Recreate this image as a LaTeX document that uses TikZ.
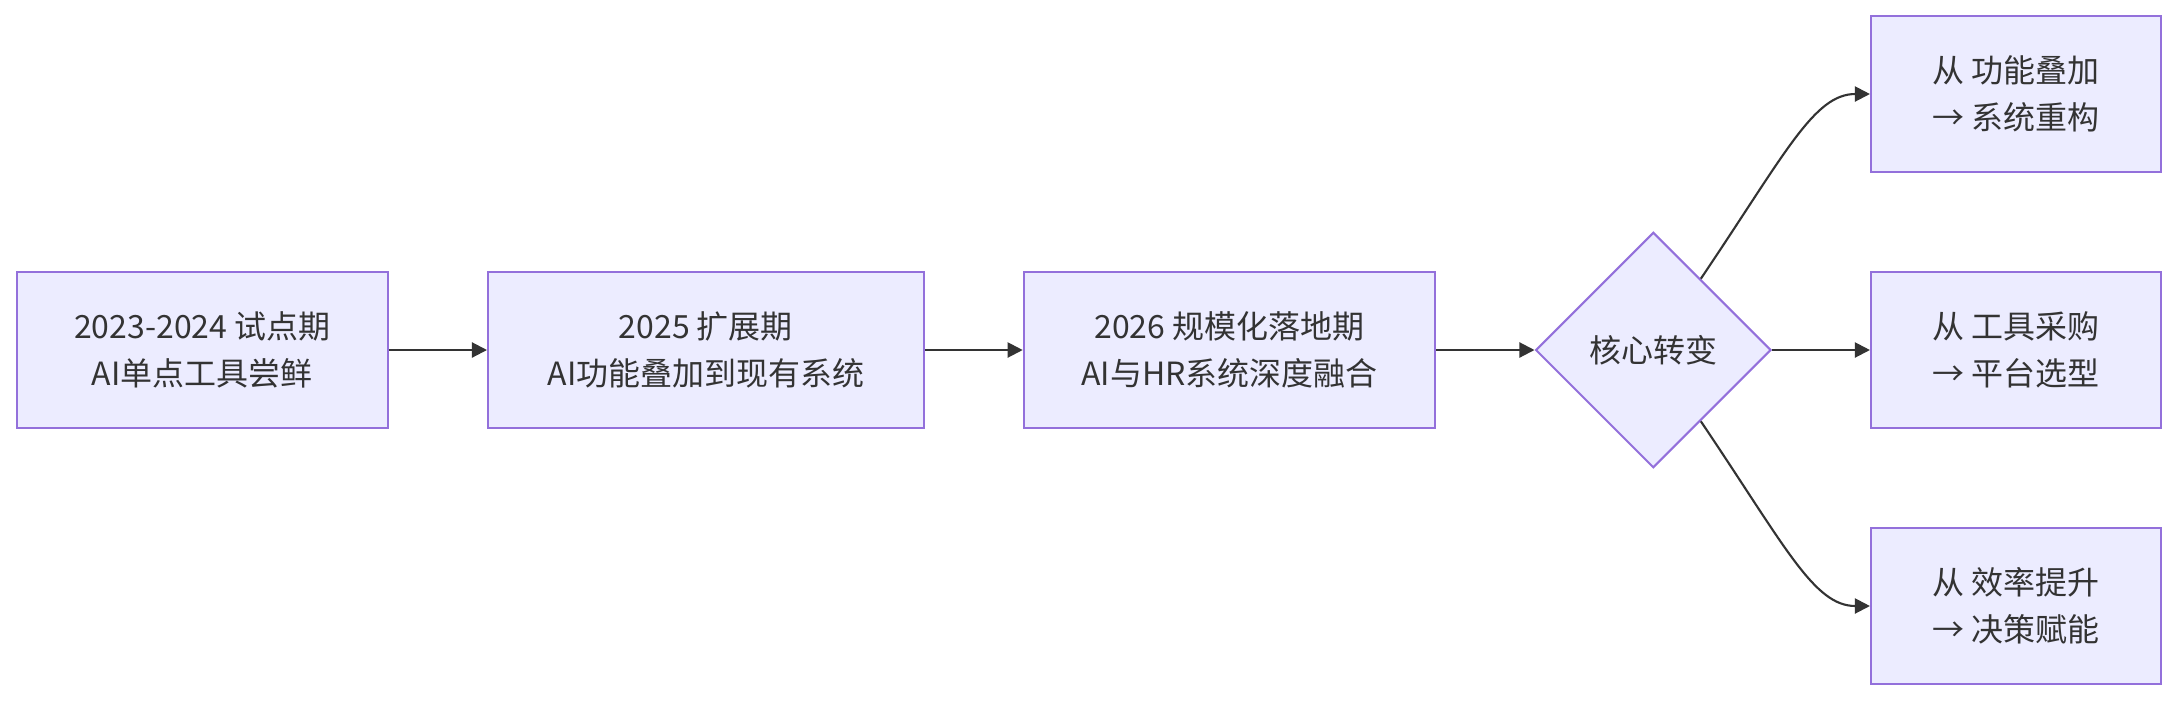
\documentclass[tikz,border=0pt]{standalone}
\usepackage{fontspec}
\usepackage{tikz}
\usetikzlibrary{calc, shapes.geometric, arrows.meta, positioning}
\newfontfamily\cjk{Noto Sans CJK SC}
\definecolor{nodefill}{HTML}{ECECFF}
\definecolor{nodeline}{HTML}{9370DB}
\definecolor{darkgray}{HTML}{333333}

\begin{document}
\begin{tikzpicture}[
    block/.style={draw=nodeline, fill=nodefill, line width=0.6pt, rectangle, minimum height=1.56cm, text=darkgray, align=center, font=\cjk\fontsize{9.1pt}{13.5pt}\selectfont},
    decision/.style={draw=nodeline, fill=nodefill, line width=0.6pt, diamond, aspect=1, inner sep=0pt, minimum size=2.355cm, text=darkgray, font=\cjk\fontsize{9.1pt}{13.5pt}\selectfont},
    arr/.style={draw=darkgray, line width=0.6pt, -{Triangle[length=4.3pt, width=4.3pt]}}
]
    \useasboundingbox (0, 0) rectangle (21.76, 7);

    \node [block, minimum width=3.71cm] (pilot) at (2.023, 3.5) {2023-2024 试点期\\AI单点工具尝鲜};
    \node [block, minimum width=4.357cm] (expand) at (7.059, 3.5) {2025 扩展期\\AI功能叠加到现有系统};
    \node [block, minimum width=4.113cm] (scale) at (12.294, 3.5) {2026 规模化落地期\\AI与HR系统深度融合};

    \node [decision] (core) at (16.533, 3.5) {核心转变};

    \node [block, minimum width=2.9cm] (shift_sys) at (20.16, 6.06) {从 功能叠加\\→ 系统重构};
    \node [block, minimum width=2.9cm] (shift_plat) at (20.16, 3.5) {从 工具采购\\→ 平台选型};
    \node [block, minimum width=2.9cm] (shift_dec) at (20.16, 0.94) {从 效率提升\\→ 决策赋能};

    \draw [arr] (pilot) -- (expand);
    \draw [arr] (expand) -- (scale);
    \draw [arr] (scale) -- (core);

    \draw [arr] ($(core.north)!0.4!(core.east)$) .. controls +(0.85, 1.26) and +(-0.56, 0) .. (shift_sys.west);
    \draw [arr] (core) -- (shift_plat);
    \draw [arr] ($(core.south)!0.4!(core.east)$) .. controls +(0.85, -1.26) and +(-0.56, 0) .. (shift_dec.west);

\end{tikzpicture}
\end{document}
